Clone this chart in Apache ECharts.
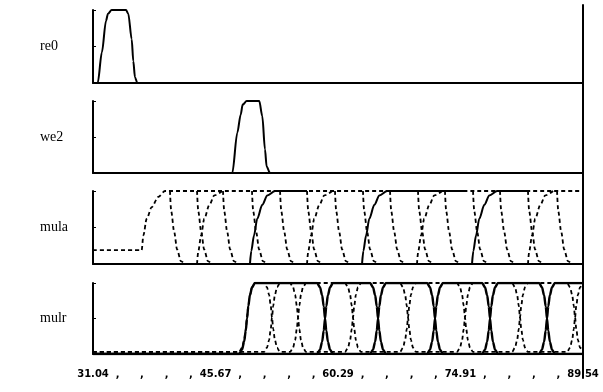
<!DOCTYPE html>
<html><head><meta charset="utf-8">
<script src="https://cdn.jsdelivr.net/npm/echarts@6/dist/echarts.min.js"></script>
<style>html,body{margin:0;padding:0;background:#fff}#c{width:603px;height:392px}</style>
</head><body><div id="c"></div>
<script>
// ---- axis / labels ----
const panelNames = ['re0', 'we2', 'mula', 'mulr'];
const xMajorTicks = [31.04, 45.67, 60.29, 74.91, 89.54];
const xMinorTicks = [33.97, 36.89, 39.82, 42.74, 48.60, 51.52, 54.45, 57.37, 63.22, 66.14, 69.07, 71.99, 77.84, 80.76, 83.69, 86.61];

// ---- re0 ----
const re0Times  = [31.04, 31.60, 32.10, 32.59, 32.83, 33.27, 34.98, 35.25, 35.66, 35.85, 36.05, 36.33, 89.54];
const re0Values = [0, 0, 0.42, 0.85, 0.95, 1, 1, 0.95, 0.6, 0.3, 0.08, 0, 0];

// ---- we2 ----
const we2Times  = [31.04, 47.67, 48.27, 48.67, 48.91, 49.39, 50.89, 51.25, 51.57, 51.77, 52.17, 89.54];
const we2Values = [0, 0, 0.56, 0.81, 0.95, 1, 1, 0.79, 0.33, 0.09, 0, 0];

// ---- mula ----
const mulaMainTimes  = [31.04, 36.85, 37.05, 37.45, 38.05, 38.84, 39.64, 89.54];
const mulaMainValues = [0.19, 0.19, 0.39, 0.62, 0.78, 0.92, 1, 1];
const mulaFallStarts = [40.23, 43.46, 46.56, 50.02, 53.37, 56.59, 59.93, 63.27, 66.50, 69.84, 73.06, 76.41, 79.63, 82.97, 86.44];
const mulaFallOffsets = [0, 0.15, 0.5, 0.85, 1.3, 1.75];
const mulaFallValues  = [1, 0.72, 0.44, 0.2, 0.04, 0];
const mulaRiseOffsets = [0, 0.16, 0.48, 0.87, 1.47, 2.07, 3.0];
const mulaRiseValues  = [0, 0.18, 0.39, 0.62, 0.81, 0.94, 1];
const mulaDashRiseStarts  = [43.46, 56.59, 69.72, 82.97];
const mulaSolidRiseStarts = [49.78, 63.16, 76.29];
const mulaSolidHighEnds   = [56.59, 75.69, 82.97];

// ---- mulr ----
const mulrEdgeOffsets = [-0.95, -0.6, -0.35, -0.15, 0, 0.15, 0.35, 0.6, 0.95];
const mulrEdgeRise    = [0, 0.06, 0.17, 0.33, 0.5, 0.67, 0.83, 0.94, 1];
const mulrSolidA = [49.43, 58.74, 65.07, 71.87, 78.44, 85.24];
const mulrSolidB = [58.74, 65.07, 71.87, 78.44, 85.24];
const mulrDashA  = [49.43, 52.41, 55.52, 62.08, 68.65, 75.45, 82.02, 88.59];
const mulrDashB  = [52.41, 55.52, 62.08, 68.65, 75.45, 82.02, 88.59];
const mulrDashLow = 0.03;

const X0 = xMajorTicks[0], X1 = xMajorTicks[xMajorTicks.length - 1];

function pairs(xs, ys) { return xs.map((x, i) => [x, ys[i]]); }
function toggling(times, offsets, rise, low, high) {
  const pts = [[X0, low]];
  let up = true;
  times.forEach(t => {
    offsets.forEach((o, i) => {
      const f = up ? rise[i] : 1 - rise[i];
      pts.push([t + o, low + (high - low) * f]);
    });
    up = !up;
  });
  pts.push([X1, up ? low : high]);
  return pts;
}

const solidStyle = { color: '#000', width: 2 };
const dashStyle = { color: '#000', width: 1.8, type: [4, 3] };
function line(g, data, style, z) {
  return { type: 'line', xAxisIndex: g, yAxisIndex: g, data: data, symbol: 'none',
    lineStyle: style, smooth: 0.3, smoothMonotone: 'x', z: z || 2, animation: false, silent: true };
}

const series = [];
series.push(line(0, pairs(re0Times, re0Values), solidStyle, 3));
series.push(line(1, pairs(we2Times, we2Values), solidStyle, 3));
series.push(line(2, pairs(mulaMainTimes, mulaMainValues), dashStyle));
mulaFallStarts.forEach(s => series.push(line(2, mulaFallOffsets.map((o, i) => [s + o, mulaFallValues[i]]), dashStyle)));
mulaDashRiseStarts.forEach(s => series.push(line(2, mulaRiseOffsets.map((o, i) => [s + o, mulaRiseValues[i]]), dashStyle)));
mulaSolidRiseStarts.forEach((s, k) => {
  const d = mulaRiseOffsets.map((o, i) => [s + o, mulaRiseValues[i]]);
  d.push([mulaSolidHighEnds[k], 1]);
  series.push(line(2, d, solidStyle, 4));
});
series.push(line(3, toggling(mulrDashA, mulrEdgeOffsets, mulrEdgeRise, mulrDashLow, 1), dashStyle));
series.push(line(3, toggling(mulrDashB, mulrEdgeOffsets, mulrEdgeRise, mulrDashLow, 1), dashStyle));
series.push(line(3, toggling(mulrSolidA, mulrEdgeOffsets, mulrEdgeRise, 0, 1), { color: '#000', width: 2.4 }, 4));
series.push(line(3, toggling(mulrSolidB, mulrEdgeOffsets, mulrEdgeRise, 0, 1), { color: '#000', width: 2.4 }, 4));

const gridBoxes = [[10, 73], [101, 72], [191, 73], [283, 71]];
const grids = gridBoxes.map(b => ({ left: 93, right: 20, top: b[0], height: b[1] }));
grids.push({ left: 93, right: 20, top: 5, bottom: 14 });

const allTicks = xMajorTicks.concat(xMinorTicks).sort((a, b) => a - b);
const xAxes = gridBoxes.map((b, i) => ({
  type: 'value', gridIndex: i, min: X0, max: X1,
  axisLine: { lineStyle: { color: '#000', width: 2 } },
  axisTick: { show: false }, splitLine: { show: false },
  axisLabel: i === 3 ? {
    show: true, customValues: allTicks, margin: 15,
    fontFamily: 'DejaVu Sans', fontWeight: 'bold', fontSize: 10, color: '#000',
    formatter: v => {
      const m = xMajorTicks.find(t => Math.abs(t - v) < 0.005);
      return m !== undefined ? m.toFixed(2) : ',';
    }
  } : { show: false }
}));
xAxes.push({ type: 'value', gridIndex: 4, min: X0, max: X1, show: false });

const yAxes = gridBoxes.map((b, i) => ({
  type: 'value', gridIndex: i, min: 0, max: 1, interval: 0.5,
  axisLine: { show: true, lineStyle: { color: '#000', width: 2 } },
  axisTick: { show: true, inside: true, length: 3, lineStyle: { color: '#000', width: 1 } },
  axisLabel: { show: false }, splitLine: { show: false },
  name: panelNames[i], nameLocation: 'middle', nameRotate: 0, nameGap: 53,
  nameTextStyle: { fontFamily: 'Liberation Serif', fontSize: 14, color: '#000', align: 'left' }
}));
yAxes.push({ type: 'value', gridIndex: 4, min: 0, max: 1, position: 'right',
  axisLine: { show: true, lineStyle: { color: '#000', width: 2 } },
  axisTick: { show: false }, axisLabel: { show: false }, splitLine: { show: false } });

const chart = echarts.init(document.getElementById('c'), null, { renderer: 'canvas' });
chart.setOption({
  animation: false,
  backgroundColor: '#fff',
  grid: grids,
  xAxis: xAxes,
  yAxis: yAxes,
  series: series
});
</script>
</body></html>
